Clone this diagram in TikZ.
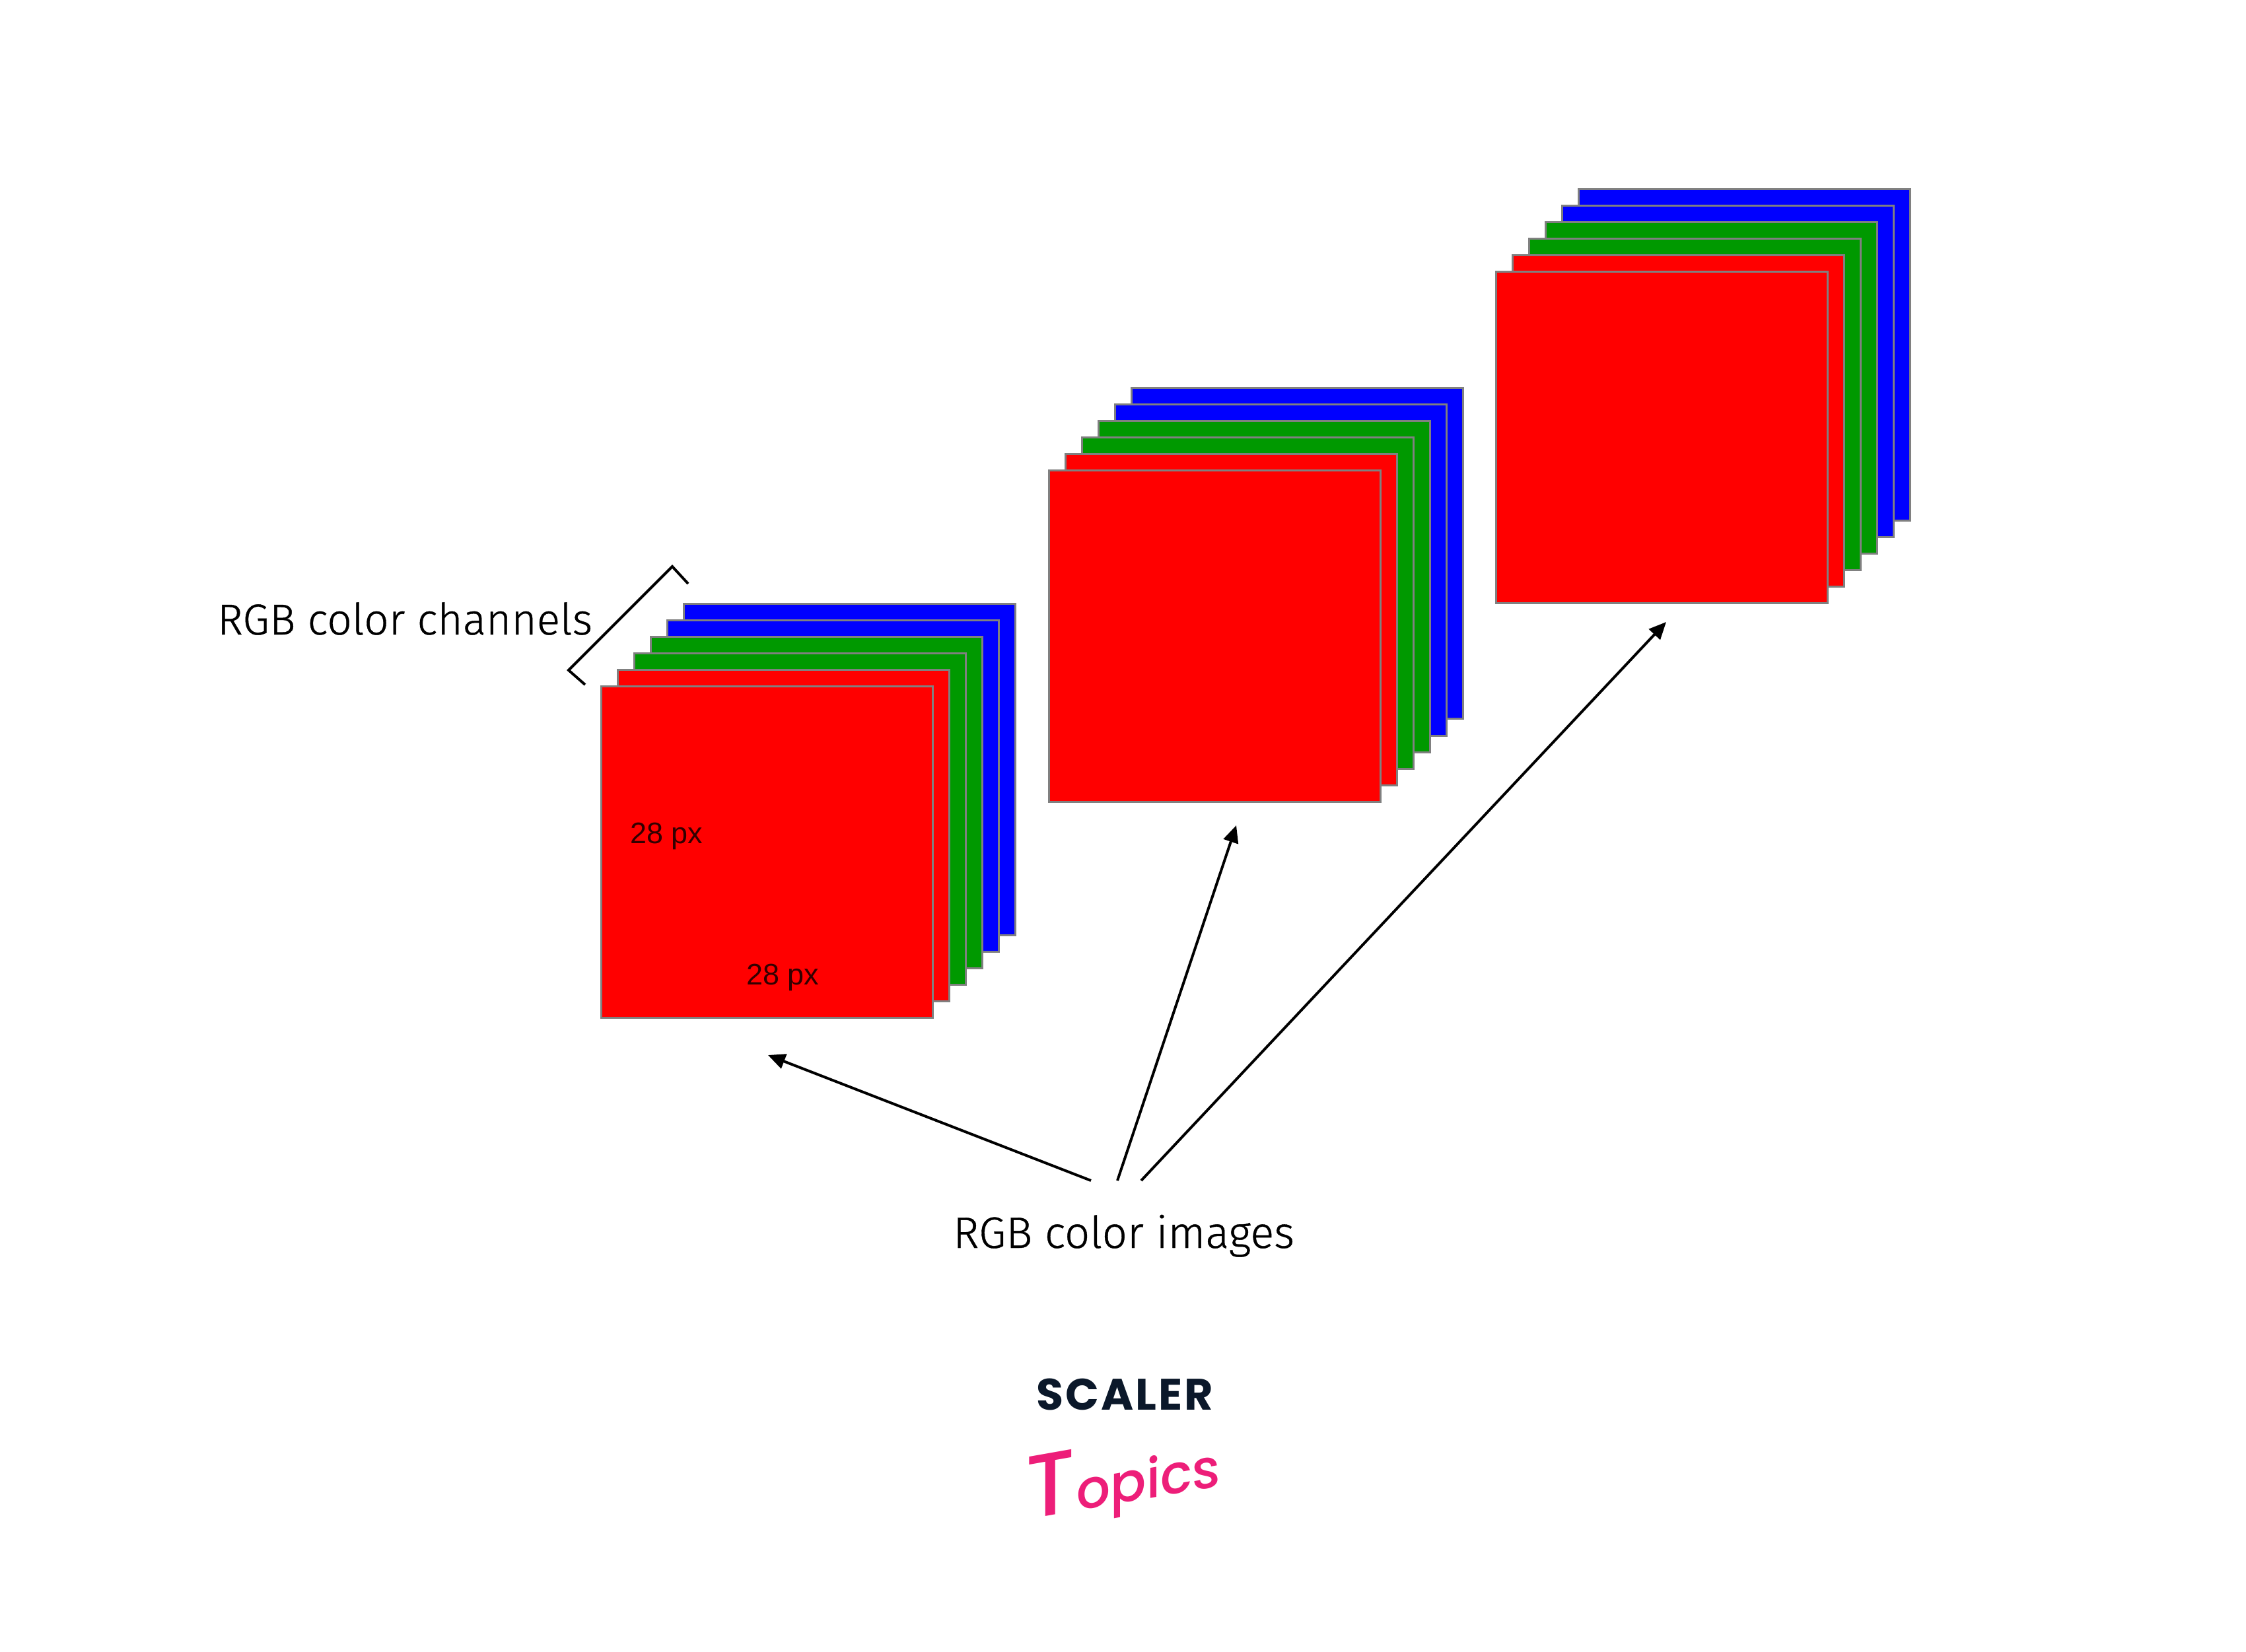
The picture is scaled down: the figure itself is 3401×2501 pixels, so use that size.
\documentclass[tikz,border=0pt]{standalone}
\usepackage{fontspec}
\usetikzlibrary{arrows.meta}
\setmainfont[FakeBold=0.6]{Fira Sans Light}
\newfontfamily\arialfont{Liberation Sans}
\newfontfamily\logofont{Poppins Bold}
\newfontfamily\toplogofont{Poppins Medium Italic}
\definecolor{chanred}{RGB}{255,0,0}
\definecolor{changreen}{RGB}{0,153,0}
\definecolor{chanblue}{RGB}{0,0,255}
\definecolor{logonavy}{RGB}{11,24,42}
\definecolor{logopink}{RGB}{237,30,121}
\definecolor{pxtext}{RGB}{50,0,0}
\tikzset{
  chanbox/.style={draw=gray,line width=0.3cm,minimum width=50.2cm,minimum height=50.2cm,inner sep=0pt,outer sep=0pt},
  caption/.style={font=\fontsize{187}{187}\selectfont,inner sep=0pt,anchor=base west,text=black},
  pxlabel/.style={font=\arialfont\fontsize{128}{128}\selectfont,inner sep=0pt,anchor=base west,text=pxtext},
  pointer/.style={line width=0.4cm,-{Triangle[length=2.6cm,width=2.3cm]},shorten >=0pt},
  brace/.style={line width=0.4cm,miter limit=10}
}
\begin{document}
\begin{tikzpicture}[x=0.1cm,y=-0.1cm]
\useasboundingbox (0,0) rectangle (3401,2501);
\foreach \sname/\cx/\cy in {a/1161/1290, b/1839.25/963, c/2516.5/662.5}{
  \foreach \k/\col in {5/chanblue,4/chanblue,3/changreen,2/changreen,1/chanred,0/chanred}{
    \node[chanbox,fill=\col] (\sname\k) at ({\cx+25*\k},{\cy-25*\k}) {};
  }
}
\node[caption] (chanlabel) at (329,961) {RGB color channels};
\node[caption,font=\fontsize{190}{190}\selectfont] (imglabel) at (1443,1890) {RGB color images};
\node[pxlabel] (pxa) at (954,1277) {28 px};
\node[pxlabel] (pxb) at (1130,1491) {28 px};
\coordinate (bracea) at (886,1037);
\coordinate (braceb) at (861,1015);
\coordinate (bracec) at (1018,858);
\coordinate (braced) at (1042,884);
\draw[brace] (bracea) -- (braceb) -- (bracec) -- (braced);
\coordinate (fromone) at (1652,1788);
\coordinate (fromtwo) at (1692,1788);
\coordinate (fromthree) at (1728,1788);
\coordinate (toone) at (1163,1598);
\coordinate (totwo) at (1872,1250);
\coordinate (tothree) at (2523,942);
\draw[pointer] (fromone) -- (toone);
\draw[pointer] (fromtwo) -- (totwo);
\draw[pointer] (fromthree) -- (tothree);
\node[inner sep=0pt,anchor=base,text=logonavy,font=\logofont\fontsize{190}{190}\selectfont] (scaler) at (1703,2135) {S\kern0.3cm C\kern0.3cm A\kern0.3cm L\kern0.3cm E\kern0.3cm R};
\node[inner sep=0pt,anchor=center,rotate=10,text=logopink,font=\toplogofont\fontsize{232}{232}\selectfont] (topics) at (1700,2240) {{\fontsize{380}{380}\selectfont T}opics};
\end{tikzpicture}
\end{document}
